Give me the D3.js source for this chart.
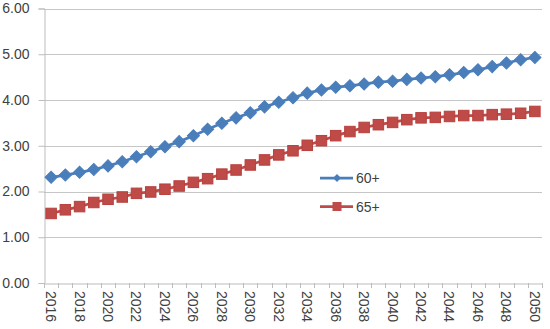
<!DOCTYPE html>
<html><head><meta charset="utf-8">
<script src="https://cdn.jsdelivr.net/npm/d3@7"></script>
<style>
html,body{margin:0;padding:0;background:#fff;}
svg{display:block;font-family:"Liberation Sans",Arial,sans-serif;}
</style></head>
<body>
<svg id="c" width="550" height="329"></svg>
<script>
const years = d3.range(2016, 2051).map(String);
const yTicks = [0, 1, 2, 3, 4, 5, 6];
const xTickLabels = years.filter((d, i) => i % 2 === 0);
const series60 = [2.31,2.36,2.42,2.48,2.56,2.65,2.76,2.87,2.98,3.09,3.22,3.36,3.49,3.61,3.72,3.85,3.95,4.05,4.15,4.22,4.28,4.31,4.35,4.39,4.41,4.45,4.48,4.51,4.55,4.60,4.66,4.73,4.81,4.88,4.93];
const series65 = [1.52,1.60,1.67,1.76,1.83,1.88,1.96,1.99,2.05,2.12,2.20,2.28,2.38,2.47,2.58,2.69,2.80,2.89,3.01,3.11,3.22,3.31,3.40,3.46,3.51,3.57,3.61,3.62,3.64,3.66,3.66,3.68,3.69,3.71,3.75];
const seriesNames = ["60+", "65+"];
const colors = ["#4A7EBB", "#BE4B48"];
const FONT = "'Liberation Sans',Arial,sans-serif";

const svg = d3.select("#c");
const L = 44, R = 542, T = 8.5, B = 283;
const x = d3.scaleBand().domain(years).range([L, R]).padding(0);
const y = d3.scaleLinear().domain([0, 6]).range([B, T]);

// gridlines
svg.append("g").selectAll("line").data(yTicks.filter(d => d > 0)).join("line")
  .attr("x1", L).attr("x2", R).attr("y1", d => Math.round(y(d)) + 0.5).attr("y2", d => Math.round(y(d)) + 0.5)
  .attr("stroke", "#c6c6c6").attr("stroke-width", 1);

// y axis
const yAxis = svg.append("g").attr("transform", `translate(${L + 0.5},0)`)
  .call(d3.axisLeft(y).tickValues(yTicks).tickFormat(d3.format(".2f")).tickSize(6).tickPadding(9));
yAxis.select(".domain").attr("stroke", "#bdbdbd");
yAxis.selectAll(".tick line").attr("stroke", "#bdbdbd");
yAxis.selectAll(".tick text").attr("font-size", "14px").attr("fill", "#404040").attr("font-family", FONT);

// x axis
const xAxis = svg.append("g").attr("transform", `translate(0,${Math.round(B) + 0.5})`)
  .call(d3.axisBottom(x).tickValues([]).tickSizeOuter(0));
xAxis.select(".domain").attr("stroke", "#bdbdbd");
// category boundary tick marks
svg.append("g").selectAll("line").data(years.concat(["end"])).join("line")
  .attr("x1", (d, i) => Math.round(L + i * x.step()) + 0.5)
  .attr("x2", (d, i) => Math.round(L + i * x.step()) + 0.5)
  .attr("y1", B).attr("y2", B + 5)
  .attr("stroke", "#bdbdbd");
// rotated labels
svg.append("g").selectAll("text").data(xTickLabels).join("text")
  .attr("transform", d => `translate(${x(d) + x.bandwidth() / 2},291) rotate(90)`)
  .attr("dy", "0.36em")
  .attr("text-anchor", "start")
  .attr("font-size", "14px").attr("fill", "#404040").attr("font-family", FONT)
  .text(d => d);

const cx = (d, i) => x(years[i]) + x.bandwidth() / 2;
const line = d3.line().x((d, i) => cx(d, i)).y(d => y(d));

function drawSeries(vals, color, kind) {
  const g = svg.append("g");
  g.append("path").datum(vals).attr("d", line).attr("fill", "none")
    .attr("stroke", color).attr("stroke-width", 2.75).attr("stroke-linejoin", "round");
  if (kind === "diamond") {
    g.selectAll("path.m").data(vals).join("path").attr("class", "m")
      .attr("d", d3.symbol().type(d3.symbolSquare).size(74)())
      .attr("transform", (d, i) => `translate(${cx(d, i)},${y(d)}) rotate(45)`)
      .attr("fill", color).attr("stroke", color).attr("stroke-width", 1);
  } else {
    g.selectAll("rect.m").data(vals).join("rect").attr("class", "m")
      .attr("x", (d, i) => cx(d, i) - 5.25).attr("y", d => y(d) - 5.25)
      .attr("width", 10.5).attr("height", 10.5)
      .attr("fill", color).attr("stroke", "#B8403D").attr("stroke-width", 1);
  }
}
drawSeries(series60, colors[0], "diamond");
drawSeries(series65, colors[1], "square");

// legend
const legY = [178, 206.5];
const lg = svg.append("g");
seriesNames.forEach((name, k) => {
  lg.append("line").attr("x1", 320).attr("x2", 353).attr("y1", legY[k]).attr("y2", legY[k])
    .attr("stroke", colors[k]).attr("stroke-width", 2.75);
  if (k === 0) {
    lg.append("path").attr("d", d3.symbol().type(d3.symbolSquare).size(32)())
      .attr("transform", `translate(337,${legY[k]}) rotate(45)`).attr("fill", colors[k]);
  } else {
    lg.append("rect").attr("x", 332.5).attr("y", legY[k] - 4.5).attr("width", 9).attr("height", 9)
      .attr("fill", colors[k]);
  }
  lg.append("text").attr("x", 356).attr("y", legY[k]).attr("dy", "0.36em")
    .attr("font-size", "14px").attr("fill", "#404040").attr("font-family", FONT).text(name);
});
</script>
</body></html>
